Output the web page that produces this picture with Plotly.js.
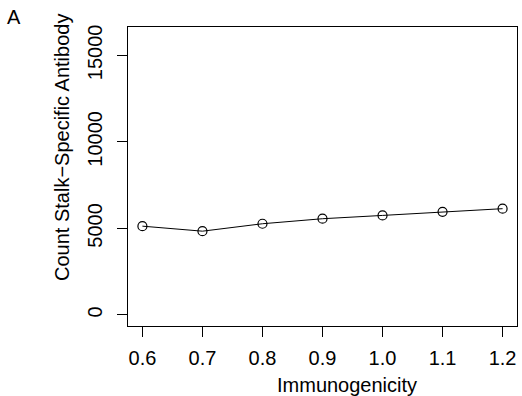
<!DOCTYPE html>
<html>
<head>
<meta charset="utf-8">
<script src="https://cdn.plot.ly/plotly-3.0.1.min.js"></script>
<style>html,body{margin:0;padding:0;background:#fff;}#chart{width:522px;height:396px;}</style>
</head>
<body>
<div id="chart"></div>
<script>
var immunogenicity = [0.6, 0.7, 0.8, 0.9, 1.0, 1.1, 1.2];
var countStalk = [5130, 4840, 5270, 5560, 5750, 5960, 6140];
var xTicks = [0.6, 0.7, 0.8, 0.9, 1.0, 1.1, 1.2];
var xTickText = ["0.6", "0.7", "0.8", "0.9", "1.0", "1.1", "1.2"];
var yTicks = [0, 5000, 10000, 15000];
var yTickText = ["0", "5000", "10000", "15000"];

var F = "Liberation Sans, Arial, sans-serif";
var FS = 20;
var trace = {
  x: immunogenicity, y: countStalk, type: "scatter", mode: "lines+markers",
  line: {color: "#000", width: 1},
  marker: {symbol: "circle-open", size: 9, color: "#000", line: {width: 1.2, color: "#000"}},
  showlegend: false, hoverinfo: "none"
};
var layout = {
  width: 522, height: 396,
  margin: {l: 128, r: 5, t: 27, b: 70},
  paper_bgcolor: "#fff", plot_bgcolor: "#fff",
  font: {family: F, size: FS, color: "#000"},
  xaxis: {
    range: [0.576, 1.224], tickvals: xTicks, ticktext: xTickText,
    showgrid: false, zeroline: false, showline: true, mirror: true,
    linecolor: "#000", linewidth: 1, ticks: "outside", ticklen: 10, tickwidth: 1, tickcolor: "#000",
    ticklabelstandoff: 4, tickfont: {family: F, size: FS, color: "#000"}
  },
  yaxis: {
    range: [-640, 16640], tickvals: yTicks, ticktext: yTickText, tickangle: -90,
    showgrid: false, zeroline: false, showline: true, mirror: true,
    linecolor: "#000", linewidth: 1, ticks: "outside", ticklen: 10, tickwidth: 1, tickcolor: "#000",
    ticklabelstandoff: 7, tickfont: {family: F, size: FS, color: "#000"}
  },
  annotations: [
    {text: "Immunogenicity", xref: "paper", yref: "paper", x: (347 - 128) / 389, y: -(385 - 326) / 299,
     xanchor: "center", yanchor: "middle", showarrow: false, font: {family: F, size: FS, color: "#000"}},
    {text: "Count Stalk\u2212Specific Antibody", xref: "paper", yref: "paper", x: (62 - 128) / 389, y: (326 - 148) / 299,
     xanchor: "center", yanchor: "middle", textangle: -90, showarrow: false, font: {family: F, size: FS, color: "#000"}},
    {text: "A", xref: "paper", yref: "paper", x: (14 - 128) / 389, y: (326 - 17) / 299,
     xanchor: "center", yanchor: "middle", showarrow: false, font: {family: F, size: FS, color: "#000"}},
    {text: "C", xref: "paper", yref: "paper", x: (14 - 128) / 389, y: (326 - 403) / 299,
     xanchor: "center", yanchor: "middle", showarrow: false, font: {family: F, size: FS, color: "#000"}}
  ]
};
Plotly.newPlot("chart", [trace], layout, {displayModeBar: false, staticPlot: true});
</script>
</body>
</html>
